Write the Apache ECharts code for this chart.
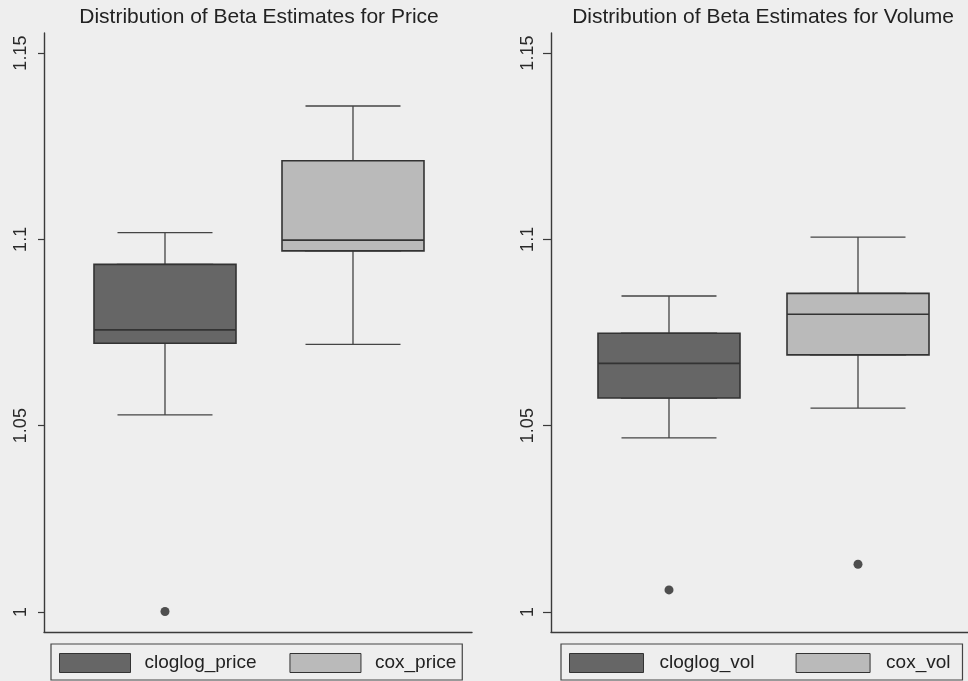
<!DOCTYPE html>
<html>
<head>
<meta charset="utf-8">
<script src="https://cdn.jsdelivr.net/npm/echarts@6/dist/echarts.min.js"></script>
<style>
html,body{margin:0;padding:0;background:#eeeeee;}
#chart{width:968px;height:681px;}
</style>
</head>
<body>
<div id="chart"></div>
<script>
// ---------- data ----------
const titles = ['Distribution of Beta Estimates for Price', 'Distribution of Beta Estimates for Volume'];

const priceCategories = ['cloglog_price', 'cox_price'];
const priceMin    = [1.0529, 1.0718];
const priceQ1     = [1.0721, 1.0969];
const priceMedian = [1.0757, 1.0998];
const priceQ3     = [1.0933, 1.1211];
const priceMax    = [1.1018, 1.1358];
const priceOutliers = [[0, 1.0001]];           // [category index, value]

const volCategories = ['cloglog_vol', 'cox_vol'];
const volMin    = [1.0467, 1.0547];
const volQ1     = [1.0574, 1.0690];
const volMedian = [1.0667, 1.0799];
const volQ3     = [1.0748, 1.0855];
const volMax    = [1.0848, 1.1006];
const volOutliers = [[0, 1.0059], [1, 1.0128]];

const yTicks = [1, 1.05, 1.1, 1.15];
const yTickLabels = ['1', '1.05', '1.1', '1.15'];

// ---------- styling ----------
const FONT = 'Liberation Sans, Arial, Helvetica, sans-serif';
const boxFills = ['#666666', '#bababa'];
const lineCol = '#3a3a3a';

const panels = [
  {cats: priceCategories, mn: priceMin, q1: priceQ1, md: priceMedian, q3: priceQ3, mx: priceMax, out: priceOutliers,
   grid: {left: 44, top: 33, width: 428, height: 599}, xMin: 0.3564, xMax: 2.633, tickLen: 6,
   titleX: 259, legend: {left: 51, itemWidth: 71, itemGap: 33, textPad: 9, padRight: 6}},
  {cats: volCategories, mn: volMin, q1: volQ1, md: volMedian, q3: volQ3, mx: volMax, out: volOutliers,
   grid: {left: 551, top: 33, width: 417, height: 599}, xMin: 0.3757, xMax: 2.582, tickLen: 8,
   titleX: 763, legend: {left: 561, itemWidth: 74, itemGap: 41, textPad: 11, padRight: 12}}
];

const option = {
  backgroundColor: '#eeeeee',
  animation: false,
  title: [], grid: [], xAxis: [], yAxis: [], series: [], legend: []
};

panels.forEach((p, gi) => {
  option.title.push({
    text: titles[gi], left: p.titleX, top: 7, textAlign: 'center', padding: 0,
    textStyle: {fontFamily: FONT, fontSize: 21, fontWeight: 'normal', color: '#222'}
  });
  option.grid.push(Object.assign({containLabel: false}, p.grid));
  // visible axis (used by whiskers / outliers) and a hidden twin for the boxes
  [true, false].forEach(vis => {
    option.xAxis.push({
      type: 'value', gridIndex: gi, min: p.xMin, max: p.xMax, position: 'bottom',
      show: vis,
      axisLine: {show: true, onZero: false, lineStyle: {color: lineCol, width: 1.4}},
      axisTick: {show: false}, axisLabel: {show: false}, splitLine: {show: false}
    });
  });
  option.yAxis.push({
    type: 'value', gridIndex: gi, min: 0.9946, max: 1.1554,
    axisLine: {show: true, lineStyle: {color: lineCol, width: 1.4}},
    axisTick: {show: true, length: p.tickLen, customValues: yTicks, lineStyle: {color: lineCol, width: 1.2}},
    axisLabel: {
      show: true, customValues: yTicks, rotate: 90, margin: 14,
      fontFamily: FONT, fontSize: 18, color: '#2a2a2a',
      formatter: v => { const i = yTicks.findIndex(t => Math.abs(t - v) < 1e-9); return i >= 0 ? yTickLabels[i] : ''; }
    },
    splitLine: {show: false}
  });
  const xw = gi * 2, xb = gi * 2 + 1;
  // whiskers (narrow caps)
  option.series.push({
    type: 'boxplot', xAxisIndex: xw, yAxisIndex: gi, boxWidth: [95, 95], silent: true,
    itemStyle: {color: 'rgba(0,0,0,0)', borderColor: '#444', borderWidth: 1.3},
    data: p.cats.map((c, i) => [i + 1, p.mn[i], p.q1[i], p.md[i], p.q3[i], p.mx[i]])
  });
  // boxes (wide, filled) with median
  option.series.push({
    type: 'boxplot', xAxisIndex: xb, yAxisIndex: gi, boxWidth: [142, 142], silent: true,
    itemStyle: {borderColor: '#333', borderWidth: 1.6},
    data: p.cats.map((c, i) => ({
      value: [i + 1, p.q1[i], p.q1[i], p.md[i], p.q3[i], p.q3[i]],
      itemStyle: {color: boxFills[i]}
    }))
  });
  // outliers
  option.series.push({
    type: 'scatter', xAxisIndex: xw, yAxisIndex: gi, symbolSize: 9, silent: true,
    itemStyle: {color: '#262626'},
    data: p.out.map(([i, v]) => [i + 1, v])
  });
  // legend entries
  p.cats.forEach((c, i) => {
    option.series.push({
      name: c, type: 'bar', xAxisIndex: xw, yAxisIndex: gi, data: [],
      itemStyle: {color: boxFills[i], borderColor: '#333', borderWidth: 1}
    });
  });
  option.legend.push({
    left: p.legend.left, top: 644, orient: 'horizontal',
    padding: [9, p.legend.padRight, 7, 8],
    itemWidth: p.legend.itemWidth, itemHeight: 19, itemGap: p.legend.itemGap,
    borderColor: '#444', borderWidth: 1.2, selectedMode: false,
    textStyle: {fontFamily: FONT, fontSize: 19, color: '#222', padding: [0, 0, 0, p.legend.textPad], lineHeight: 19},
    data: p.cats.map(c => ({name: c, icon: 'rect', itemStyle: {borderColor: '#333', borderWidth: 1}}))
  });
});

const chart = echarts.init(document.getElementById('chart'), null, {renderer: 'canvas'});
chart.setOption(option);
</script>
</body>
</html>
